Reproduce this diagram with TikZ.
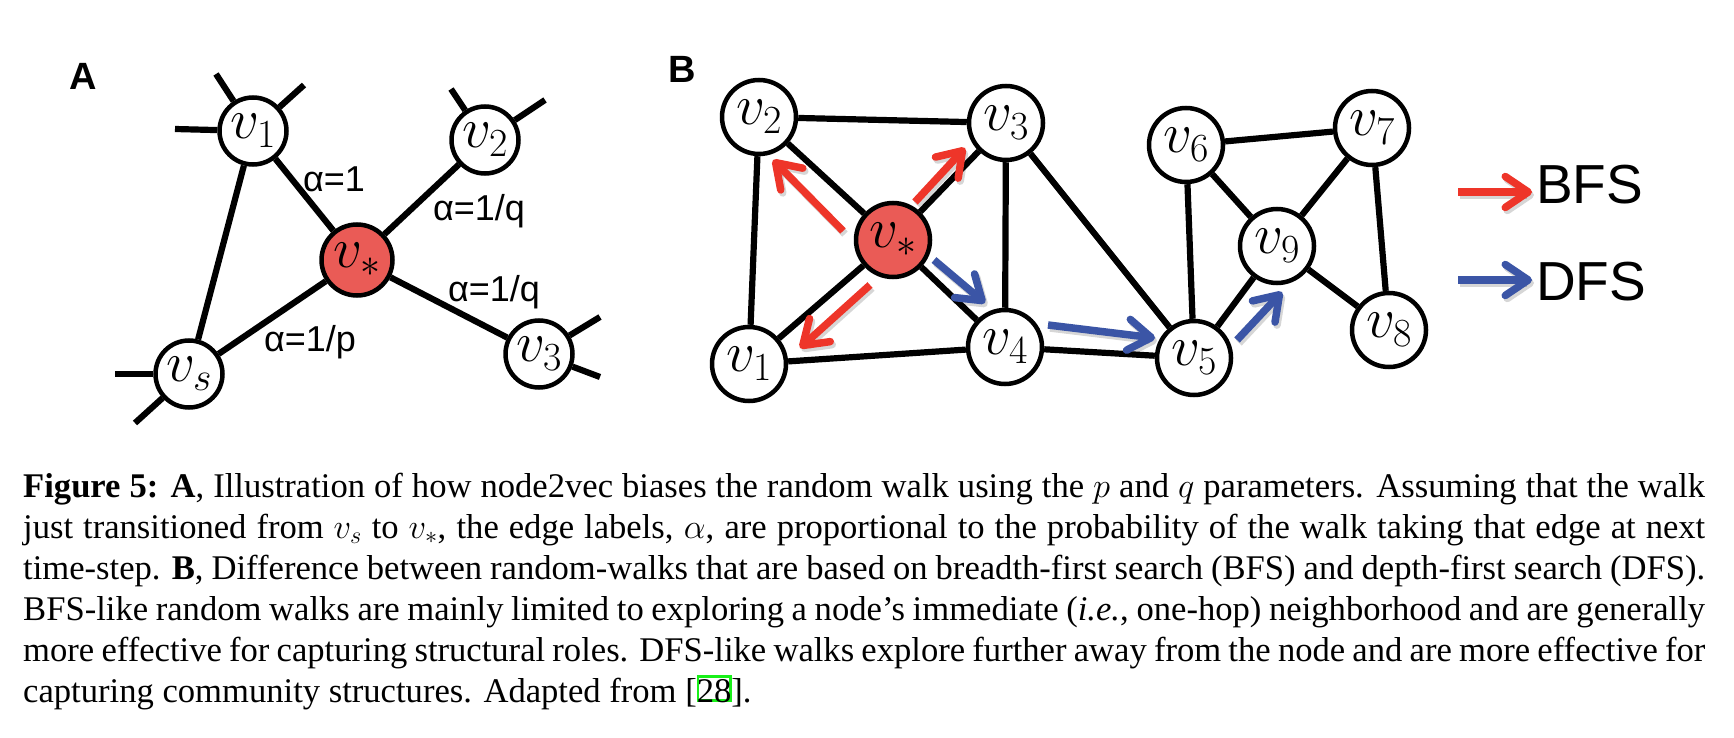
\RequirePackage{fix-cm}
\documentclass[tikz,border=0pt]{standalone}
\usepackage[no-math]{fontspec}
\setmainfont{Liberation Serif}
\newfontfamily\lsans{Liberation Sans}
\usetikzlibrary{arrows.meta}
\definecolor{vstar}{HTML}{EA5B56}
\definecolor{bfsred}{HTML}{EE3529}
\definecolor{dfsblue}{HTML}{3B55A6}
\definecolor{lgreen}{HTML}{19F019}
\newcommand\citebox[1]{\leavevmode\setbox0=\hbox{#1}\rlap{\raisebox{3pt}{\textcolor{lgreen}{\fboxrule=2.5pt\fboxsep=0pt\fbox{\hbox to 0.86\wd0{\vrule width0pt height 0.92\ht0 depth 0pt\hfil}}}}}\box0}
\newcommand\capline[1]{\hbox to 1682pt{\makebox[1682pt][s]{#1}}}
\begin{document}
\begin{tikzpicture}[x=1pt,y=-1pt,
  vn/.style={circle, draw, line width=4.5pt, fill=white, inner sep=0pt, minimum size=67pt, font=\fontsize{57}{57}\selectfont},
  vnb/.style={vn, minimum size=74pt},
  ed/.style={line width=6.2pt},
  lab/.style={font=\lsans\fontsize{36}{36}\selectfont, inner sep=0pt},
  panel/.style={font=\lsans\bfseries\fontsize{38}{38}\selectfont, inner sep=0pt},
  walk/.style={line width=7.5pt, -{Straight Barb[length=23pt,width=31pt,round]}},
  shad/.style={walk, draw=black, opacity=0.16, transform canvas={shift={(2pt,-3pt)}}},
  legtext/.style={font=\lsans\fontsize{55}{55}\selectfont, inner sep=0pt, anchor=base west},
]
\useasboundingbox (0,0) rectangle (1734,738);
\fill[white] (0,0) rectangle (1734,738);

% ---------------- Panel A ----------------
\node[panel] (labA) at (83,76) {A};
\node[vn] (a1) at (253,131) {$v_1$};
\node[vn] (a2) at (485,140) {$v_2$};
\node[vn, fill=vstar, minimum size=71pt] (as) at (357,260) {$v_*$};
\node[vn] (avs) at (189,374) {$v_s$};
\node[vn] (a3) at (539,354) {$v_3$};
\coordinate (s1a) at (216,74);
\coordinate (s1b) at (304,85);
\coordinate (s1c) at (175,129);
\coordinate (s2a) at (451,89);
\coordinate (s2b) at (545,100);
\coordinate (s3a) at (115,374);
\coordinate (s3b) at (135,423);
\coordinate (s4a) at (600,317);
\coordinate (s4b) at (600,377);
\draw[ed] (a1) -- (s1a);
\draw[ed] (a1) -- (s1b);
\draw[ed] (a1) -- (s1c);
\draw[ed] (a2) -- (s2a);
\draw[ed] (a2) -- (s2b);
\draw[ed] (avs) -- (s3a);
\draw[ed] (avs) -- (s3b);
\draw[ed] (a3) -- (s4a);
\draw[ed] (a3) -- (s4b);
\draw[ed] (a1) -- (avs);
\draw[ed] (a1) -- (as);
\draw[ed] (as) -- (a2);
\draw[ed] (as) -- (avs);
\draw[ed] (as) -- (a3);
\node[lab] (l1) at (334,179) {α=1};
\node[lab] (l2) at (479,211) {α=1/q};
\node[lab] (l3) at (494,292) {α=1/q};
\node[lab] (l4) at (310,342) {α=1/p};

% ---------------- Panel B ----------------
\node[panel] (labB) at (682,69) {B};
\node[vnb] (b2) at (759,117) {$v_2$};
\node[vnb] (b3) at (1006,123) {$v_3$};
\node[vnb, fill=vstar] (bs) at (893,240) {$v_*$};
\node[vnb] (b1) at (749,364) {$v_1$};
\node[vnb] (b4) at (1005,347) {$v_4$};
\node[vnb] (b5) at (1194,358) {$v_5$};
\node[vnb] (b6) at (1186,145) {$v_6$};
\node[vnb] (b7) at (1372,128) {$v_7$};
\node[vnb] (b9) at (1277,246) {$v_9$};
\node[vnb] (b8) at (1389,330) {$v_8$};
\foreach \u/\v in {b2/b3, b2/b1, b2/bs, bs/b3, bs/b1, bs/b4, b3/b4, b3/b5, b1/b4, b4/b5, b5/b6, b5/b9, b6/b7, b6/b9, b7/b9, b7/b8, b9/b8}
  \draw[ed] (\u) -- (\v);

% walk arrows
\coordinate (r1t) at (843,231); \coordinate (r1h) at (773,160);
\coordinate (r2t) at (915,202); \coordinate (r2h) at (965,148);
\coordinate (r3t) at (870,285); \coordinate (r3h) at (800,348);
\coordinate (d1t) at (934,260); \coordinate (d1h) at (985,303);
\coordinate (d2t) at (1048,325); \coordinate (d2h) at (1155,338);
\coordinate (d3t) at (1237,340); \coordinate (d3h) at (1282,292);
\coordinate (lrt) at (1458,192); \coordinate (lrh) at (1532,192);
\coordinate (lbt) at (1458,280); \coordinate (lbh) at (1532,280);
\foreach \t/\h in {r1t/r1h, r2t/r2h, r3t/r3h, d1t/d1h, d2t/d2h, d3t/d3h, lrt/lrh, lbt/lbh}
  \draw[shad] (\t) -- (\h);
\foreach \t/\h in {r1t/r1h, r2t/r2h, r3t/r3h, lrt/lrh}
  \draw[walk, draw=bfsred] (\t) -- (\h);
\foreach \t/\h in {d1t/d1h, d2t/d2h, d3t/d3h, lbt/lbh}
  \draw[walk, draw=dfsblue] (\t) -- (\h);
\node[legtext] (bfs) at (1536,204) {BFS};
\node[legtext] (dfs) at (1536,300) {DFS};

% ---------------- Caption ----------------
\node[anchor=base west, inner sep=0pt, font=\fontsize{34.6}{41}\selectfont] (cap) at (23,497) {\vtop{\hsize=1682pt\parindent=0pt\baselineskip=41pt
\capline{\textbf{Figure 5: A}, Illustration of how node2vec biases the random walk using the $p$ and $q$ parameters. Assuming that the walk}
\capline{just transitioned from $v_s$ to $v_*$, the edge labels, $\alpha$, are proportional to the probability of the walk taking that edge at next}
\capline{time-step. \textbf{B}, Difference between random-walks that are based on breadth-first search (BFS) and depth-first search (DFS).}
\capline{BFS-like random walks are mainly limited to exploring a node’s immediate (\textit{i.e.}, one-hop) neighborhood and are generally}
\capline{more effective for capturing structural roles. DFS-like walks explore further away from the node and are more effective for}
\hbox{capturing community structures. Adapted from [\citebox{28}].}}};
\end{tikzpicture}
\end{document}
